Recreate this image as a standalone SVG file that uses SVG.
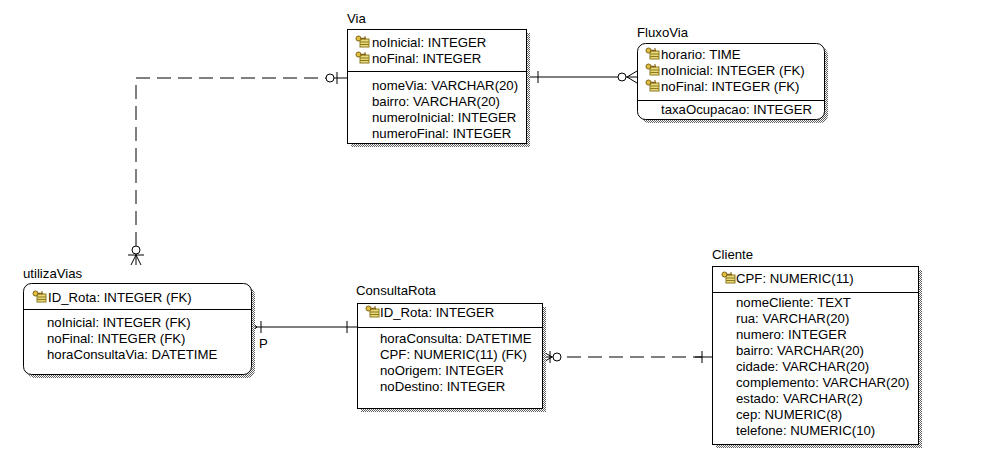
<svg xmlns="http://www.w3.org/2000/svg" width="981" height="474" viewBox="0 0 981 474">
<defs>
<pattern id="shade" width="2" height="2" patternUnits="userSpaceOnUse">
<rect width="2" height="2" fill="#ffffff"/>
<rect width="1" height="1" fill="#606060"/>
<rect x="1" y="1" width="1" height="1" fill="#606060"/>
</pattern>
<symbol id="key" viewBox="0 0 15 13" width="15" height="13">
<rect x="5" y="4" width="9" height="8" fill="#e8d878" stroke="#8a7a20" stroke-width="1"/>
<line x1="5" y1="7" x2="14" y2="7" stroke="#8a7a20" stroke-width="1"/>
<line x1="5" y1="9.5" x2="14" y2="9.5" stroke="#8a7a20" stroke-width="1"/>
<circle cx="3.5" cy="3.5" r="2.5" fill="#e0c040" stroke="#806010" stroke-width="1"/>
<line x1="5.5" y1="3.5" x2="11" y2="3.5" stroke="#806010" stroke-width="1.5"/>
<line x1="10" y1="1" x2="10" y2="3.5" stroke="#806010" stroke-width="1"/>
</symbol>
</defs>
<style>
text { font-family: "Liberation Sans", Arial, sans-serif; font-size: 13.2px; fill: #000; }
.box { fill: #ffffff; stroke: #000; stroke-width: 1; }
.sh { fill: url(#shade); }
.sep { stroke: #000; stroke-width: 1; }
.ln { fill: none; stroke: #000; stroke-width: 1; }
.dash { fill: none; stroke: #000; stroke-width: 1; stroke-dasharray: 14 7; }
.o { fill: #fff; stroke: #000; stroke-width: 1; }
</style>
<rect width="981" height="474" fill="#ffffff"/>

<g id="connectors">
<!-- Via - utilizaVias -->
<path class="dash" d="M136,246 V78 H326"/>
<line class="ln" x1="334" y1="78" x2="347" y2="78"/>
<circle class="o" cx="330" cy="78" r="4"/>
<line class="ln" x1="337" y1="72" x2="337" y2="84"/>
<line class="ln" x1="136" y1="254" x2="136" y2="265"/>
<circle class="o" cx="136" cy="250" r="4"/>
<line class="ln" x1="128" y1="255" x2="144" y2="255"/>
<path class="ln" d="M131,265 L136,255 L141,265"/>
<!-- Via - FluxoVia -->
<line class="ln" x1="526" y1="77" x2="618" y2="77"/>
<line class="ln" x1="626" y1="77" x2="637" y2="77"/>
<line class="ln" x1="538" y1="71" x2="538" y2="83"/>
<circle class="o" cx="622" cy="77" r="4"/>
<path class="ln" d="M637,71 L627,77 L637,83"/>
<!-- utilizaVias - ConsultaRota -->
<line class="ln" x1="251" y1="327" x2="357" y2="327"/>
<path class="ln" d="M251,322 L257,327 L251,332"/>
<line class="ln" x1="261" y1="321" x2="261" y2="333"/>
<line class="ln" x1="347" y1="321" x2="347" y2="333"/>
<text x="259" y="348">P</text>
<!-- ConsultaRota - Cliente -->
<line class="ln" x1="542" y1="357" x2="553" y2="357"/>
<path class="ln" d="M542,351 L552,357 L542,363"/>
<line class="ln" x1="550" y1="351" x2="550" y2="363"/>
<circle class="o" cx="557" cy="357" r="4"/>
<path class="dash" d="M567,357 H702"/>
<line class="ln" x1="695" y1="357" x2="712" y2="357"/>
<line class="ln" x1="702" y1="351" x2="702" y2="363"/>
</g>

<g id="Via">
<text x="347" y="23">Via</text>
<rect class="sh" x="351" y="33" width="179" height="114"/>
<rect class="box" x="347.5" y="29.5" width="179" height="114"/>
<line class="sep" x1="347" y1="71.5" x2="526" y2="71.5"/>
<use href="#key" x="355" y="35"/>
<text x="372" y="47">noInicial: INTEGER</text>
<use href="#key" x="355" y="51"/>
<text x="372" y="63">noFinal: INTEGER</text>
<text x="372" y="90">nomeVia: VARCHAR(20)</text>
<text x="372" y="106">bairro: VARCHAR(20)</text>
<text x="372" y="122">numeroInicial: INTEGER</text>
<text x="372" y="138">numeroFinal: INTEGER</text>
</g>

<g id="FluxoVia">
<text x="637" y="37">FluxoVia</text>
<rect class="sh" x="641" y="47" width="187" height="76" rx="8"/>
<rect class="box" x="637.5" y="43.5" width="187" height="76" rx="8"/>
<line class="sep" x1="637" y1="100.5" x2="824" y2="100.5"/>
<use href="#key" x="645" y="47"/>
<text x="661" y="59">horario: TIME</text>
<use href="#key" x="645" y="63"/>
<text x="661" y="75">noInicial: INTEGER (FK)</text>
<use href="#key" x="645" y="79"/>
<text x="661" y="91">noFinal: INTEGER (FK)</text>
<text x="661" y="114">taxaOcupacao: INTEGER</text>
</g>

<g id="utilizaVias">
<text x="23" y="278">utilizaVias</text>
<rect class="sh" x="27" y="287" width="228" height="91" rx="8"/>
<rect class="box" x="23.5" y="283.5" width="228" height="91" rx="8"/>
<line class="sep" x1="23" y1="309.5" x2="251" y2="309.5"/>
<use href="#key" x="32" y="290"/>
<text x="48" y="302">ID_Rota: INTEGER (FK)</text>
<text x="47" y="327">noInicial: INTEGER (FK)</text>
<text x="47" y="343">noFinal: INTEGER (FK)</text>
<text x="47" y="359">horaConsultaVia: DATETIME</text>
</g>

<g id="ConsultaRota">
<text x="356" y="295">ConsultaRota</text>
<rect class="sh" x="361" y="307" width="185" height="105"/>
<rect class="box" x="357.5" y="303.5" width="185" height="105"/>
<line class="sep" x1="357" y1="327.5" x2="542" y2="327.5"/>
<use href="#key" x="365" y="305"/>
<text x="380" y="317">ID_Rota: INTEGER</text>
<text x="380" y="343">horaConsulta: DATETIME</text>
<text x="380" y="359">CPF: NUMERIC(11) (FK)</text>
<text x="380" y="375">noOrigem: INTEGER</text>
<text x="380" y="391">noDestino: INTEGER</text>
</g>

<g id="Cliente">
<text x="712" y="259">Cliente</text>
<rect class="sh" x="716" y="270" width="206" height="178"/>
<rect class="box" x="712.5" y="266.5" width="206" height="178"/>
<line class="sep" x1="712" y1="292.5" x2="918" y2="292.5"/>
<use href="#key" x="721" y="271"/>
<text x="736" y="283">CPF: NUMERIC(11)</text>
<text x="736" y="307">nomeCliente: TEXT</text>
<text x="736" y="323">rua: VARCHAR(20)</text>
<text x="736" y="339">numero: INTEGER</text>
<text x="736" y="355">bairro: VARCHAR(20)</text>
<text x="736" y="371">cidade: VARCHAR(20)</text>
<text x="736" y="387">complemento: VARCHAR(20)</text>
<text x="736" y="403">estado: VARCHAR(2)</text>
<text x="736" y="419">cep: NUMERIC(8)</text>
<text x="736" y="435">telefone: NUMERIC(10)</text>
</g>
</svg>
